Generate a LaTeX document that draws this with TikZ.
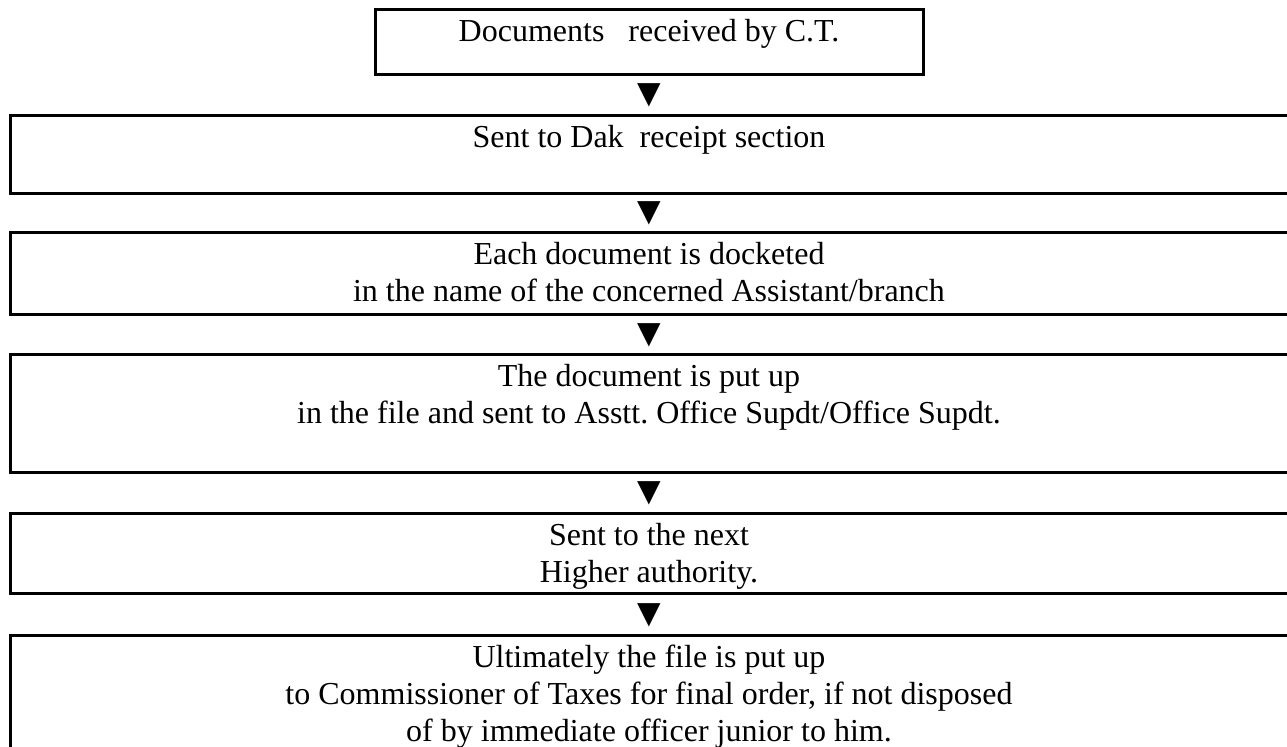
\documentclass[tikz,border=0pt]{standalone}
\usepackage{fontspec}
\setmainfont{Liberation Serif}
\usetikzlibrary{positioning, calc}
\frenchspacing

\begin{document}
\begin{tikzpicture}[
    x=0.5pt, y=-0.5pt,
    font=\fontsize{16pt}{18.4pt}\selectfont,
    stepbox/.style={draw, line width=1.5pt, inner sep=0pt, minimum width=645pt},
    steptext/.style={anchor=north, align=center, inner sep=2.5pt, yshift=-1pt},
    tri/.style={inner sep=0pt, font=\fontsize{20pt}{20pt}\selectfont}
]

% 0. Page frame (boxes run off the right and bottom edge)
\useasboundingbox (0,0) rectangle (1287,747);
\clip (0,0) rectangle (1287,747);

% 1. Boxes
\node[stepbox, minimum width=274pt, minimum height=32.5pt] (recv) at (649,42.5) {};
\node[stepbox, minimum height=39pt] (dak) at (655,155) {};
\node[stepbox, minimum height=41pt] (docket) at (655,274) {};
\node[stepbox, minimum height=59pt] (putup) at (655,414) {};
\node[stepbox, minimum height=40pt] (higher) at (655,554) {};
\node[stepbox, minimum height=70pt] (final) at (655,706) {};

% 2. Texts
\node[steptext] (recvtxt) at (recv.north) {\strut Documents\ \ \ received by C.T.};
\node[steptext] (daktxt) at (dak.north -| recv.north) {\strut Sent to Dak\ \ receipt section};
\node[steptext] (dockettxt) at (docket.north -| recv.north) {\strut Each document is docketed\\in the name of the concerned Assistant/branch};
\node[steptext] (putuptxt) at (putup.north -| recv.north) {\strut The document is put up\\in the file and sent to Asstt. Office Supdt/Office Supdt.};
\node[steptext] (highertxt) at (higher.north -| recv.north) {\strut Sent to the next\\Higher authority.};
\node[steptext] (finaltxt) at (final.north -| recv.north) {\strut Ultimately the file is put up\\to Commissioner of Taxes for final order, if not disposed\\of by immediate officer junior to him.};

% 3. Arrow marks between the steps
\node[tri] (a1) at ($(recv.south)!.5!(dak.north -| recv.south)$) {▼};
\node[tri] (a2) at ($(dak.south -| recv.south)!.5!(docket.north -| recv.south)$) {▼};
\node[tri] (a3) at ($(docket.south -| recv.south)!.5!(putup.north -| recv.south)$) {▼};
\node[tri] (a4) at ($(putup.south -| recv.south)!.5!(higher.north -| recv.south)$) {▼};
\node[tri] (a5) at ($(higher.south -| recv.south)!.5!(final.north -| recv.south)$) {▼};

\end{tikzpicture}
\end{document}
